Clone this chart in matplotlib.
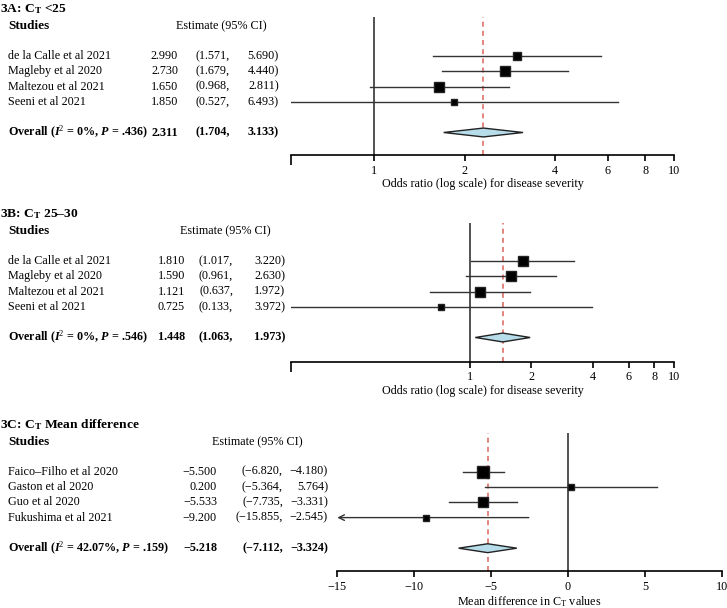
import numpy as np
import matplotlib
matplotlib.use("Agg")
import matplotlib.pyplot as plt
from matplotlib.ticker import NullFormatter
from matplotlib.transforms import blended_transform_factory

plt.rcParams["font.family"] = ["Liberation Serif", "DejaVu Serif"]
plt.rcParams["mathtext.fontset"] = "custom"
plt.rcParams["mathtext.rm"] = "Liberation Serif"
plt.rcParams["mathtext.it"] = "Liberation Serif:italic"
plt.rcParams["mathtext.bf"] = "Liberation Serif:bold"
plt.rcParams["mathtext.bfit"] = "Liberation Serif:italic:bold"
FS = 8.7

# ---- data ----
studies_a = ["de la Calle et al 2021", "Magleby et al 2020", "Maltezou et al 2021", "Seeni et al 2021"]
est_a = [2.990, 2.730, 1.650, 1.850]
lo_a = [1.571, 1.679, 0.968, 0.527]
hi_a = [5.690, 4.440, 2.811, 6.493]
overall_a = (2.311, 1.704, 3.133)
label_a = r"Overall ($\mathbfit{I}^{2}$ = 0%, $\mathbfit{P}$ = .436)"
size_a = [8.3, 10, 9.7, 6.3]

studies_b = ["de la Calle et al 2021", "Magleby et al 2020", "Maltezou et al 2021", "Seeni et al 2021"]
est_b = [1.810, 1.590, 1.121, 0.725]
lo_b = [1.017, 0.961, 0.637, 0.133]
hi_b = [3.220, 2.630, 1.972, 3.972]
overall_b = (1.448, 1.063, 1.973)
label_b = r"Overall ($\mathbfit{I}^{2}$ = 0%, $\mathbfit{P}$ = .546)"
size_b = [10, 10, 10, 5.7]

studies_c = ["Faico–Filho et al 2020", "Gaston et al 2020", "Guo et al 2020", "Fukushima et al 2021"]
est_c = [-5.500, 0.200, -5.533, -9.200]
lo_c = [-6.820, -5.364, -7.735, -15.855]
hi_c = [-4.180, 5.764, -3.331, -2.545]
overall_c = (-5.218, -7.112, -3.324)
label_c = r"Overall ($\mathbfit{I}^{2}$ = 42.07%, $\mathbfit{P}$ = .159)"
size_c = [12.7, 6.7, 10, 5.7]

W, H = 727, 608
fig = plt.figure(figsize=(W / 100, H / 100), dpi=100)


def fmt(v):
    return f"{v:.3f}".replace("-", "−")


def panel(title, studies, est, lo, hi, overall, olabel, sizes, log, xlim, xleft, xright,
          axis_y, row0, vtop, cols, xlabel, ticks, null):
    sp = 15.3
    ax = fig.add_axes([xleft / W, 1 - axis_y / H, (xright - xleft) / W, (axis_y - vtop) / H])
    ax.patch.set_visible(False)
    if log:
        ax.set_xscale("log")
    ax.set_xlim(*xlim)
    ax.set_ylim((axis_y - row0) / sp, (vtop - row0) / sp)
    for s in ["top", "left", "right"]:
        ax.spines[s].set_visible(False)
    ax.spines["bottom"].set_linewidth(1.2)
    ax.set_yticks([])
    ax.minorticks_off()
    ax.set_xticks(ticks)
    ax.set_xticklabels([f"{t:g}".replace("-", "−") for t in ticks], fontsize=FS)
    ax.tick_params(axis="x", length=4, width=1.2, pad=3)
    if log:
        ax.set_xticks([xlim[0], xlim[1]], minor=True)
        ax.xaxis.set_minor_formatter(NullFormatter())
        ax.tick_params(axis="x", which="minor", length=7, width=1.2)
    ax.set_xlabel(xlabel, fontsize=FS, labelpad=1)

    rows = np.arange(len(studies))
    oy = 5
    ax.axvline(null, color="#444444", lw=1.3, zorder=1)
    ax.axvline(overall[0], color="#e07068", lw=1.2, ls=(0, (3, 2.5)), zorder=1)
    for i in rows:
        if lo[i] < xlim[0]:
            ax.annotate("", xy=(xlim[0], i), xytext=(hi[i], i),
                        arrowprops=dict(arrowstyle="->", color="#333333", lw=1,
                                        shrinkA=0, shrinkB=0))
        else:
            ax.plot([lo[i], hi[i]], [i, i], color="#333333", lw=1, zorder=2)
        ax.plot(est[i], i, marker="s", ms=sizes[i] * 0.72, color="black",
                mec="#222222", zorder=3)
    e, l, h = overall
    hh = 0.29
    ax.fill([l, e, h, e], [oy, oy - hh, oy, oy + hh], facecolor="#b7dcea",
            edgecolor="#222222", lw=1, zorder=3)

    tr = blended_transform_factory(fig.transFigure, ax.transData)
    x_est, x_lo, x_hi, x_head = cols
    ax.text(0 / W, -3.05, title, transform=tr, fontsize=FS + 1, weight="bold",
            va="center", ha="left")
    ax.text(8 / W, -1.95, "Studies", transform=tr, fontsize=FS + 0.8, weight="bold",
            va="center", ha="left")
    ax.text(x_head / W, -1.95, "Estimate (95% CI)", transform=tr, fontsize=FS,
            va="center", ha="left")
    for i in rows:
        ax.text(8 / W, i, studies[i], transform=tr, fontsize=FS, va="center")
        ax.text(x_est / W, i, fmt(est[i]), transform=tr, fontsize=FS, va="center", ha="right")
        ax.text(x_lo / W, i, "(" + fmt(lo[i]) + ",", transform=tr, fontsize=FS,
                va="center", ha="right")
        ax.text(x_hi / W, i, fmt(hi[i]) + ")", transform=tr, fontsize=FS, va="center", ha="right")
    ax.text(8 / W, oy, olabel, transform=tr, fontsize=FS, weight="bold", va="center")
    ax.text(x_est / W, oy, fmt(e), transform=tr, fontsize=FS, weight="bold", va="center", ha="right")
    ax.text(x_lo / W, oy, "(" + fmt(l) + ",", transform=tr, fontsize=FS, weight="bold",
            va="center", ha="right")
    ax.text(x_hi / W, oy, fmt(h) + ")", transform=tr, fontsize=FS, weight="bold",
            va="center", ha="right")
    return ax


panel(r"3A: C$_{\mathbf{T}}$ <25", studies_a, est_a, lo_a, hi_a, overall_a, label_a, size_a,
      True, (0.527, 10), 290.7, 674.3, 155, 56, 17, (178, 230, 279, 176),
      "Odds ratio (log scale) for disease severity", [1, 2, 4, 6, 8, 10], 1)
panel(r"3B: C$_{\mathbf{T}}$ 25–30", studies_b, est_b, lo_b, hi_b, overall_b, label_b, size_b,
      True, (0.133, 10), 290.7, 674.3, 361.7, 261, 223, (185, 233, 285, 180),
      "Odds ratio (log scale) for disease severity", [1, 2, 4, 6, 8, 10], 1)
panel(r"3C: C$_{\mathbf{T}}$ Mean difference", studies_c, est_c, lo_c, hi_c, overall_c, label_c,
      size_c, False, (-15, 10), 337.3, 721.7, 571, 471.7, 433, (217, 283, 328, 212),
      r"Mean difference in C$_\mathrm{T}$ values", [-15, -10, -5, 0, 5, 10], 0)

fig.savefig("out.png", dpi=100)
